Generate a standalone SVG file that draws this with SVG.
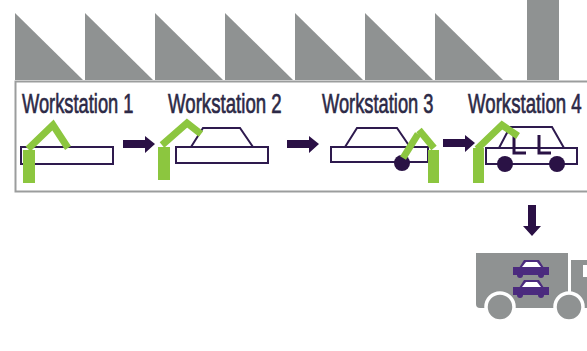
<svg xmlns="http://www.w3.org/2000/svg" width="587" height="351" viewBox="0 0 587 351">
  <style>
    .roof { fill: #8f9292; }
    .frame { fill: none; stroke: #9b9d9d; stroke-width: 2; }
    .label { font-family: "Liberation Sans", "DejaVu Sans", sans-serif; font-size: 18.3px; fill: #2c2946; stroke: #2c2946; stroke-width: 0.45; }
    .body { fill: #ffffff; stroke: #2e1a4e; stroke-width: 2; }
    .cabin { fill: none; stroke: #2e1a4e; stroke-width: 2; stroke-linejoin: miter; }
    .wheel { fill: #2a1245; }
    .arm { fill: none; stroke: #8cc63f; stroke-width: 7; stroke-linecap: butt; stroke-linejoin: miter; }
    .post { fill: #8cc63f; }
    .flow { fill: #2a1045; }
    .seat { fill: none; stroke: #2a1245; stroke-width: 3; }
    .truck { fill: #8f9292; }
    .mini { fill: #4b2a7e; }
  </style>

  <!-- factory roof: sawtooth and chimney -->
  <g id="factory">
    <polygon class="roof" points="15,13 83,80 15,80"/>
    <polygon class="roof" points="85,13 153,80 85,80"/>
    <polygon class="roof" points="155,13 223,80 155,80"/>
    <polygon class="roof" points="225,13 293,80 225,80"/>
    <polygon class="roof" points="295,13 363,80 295,80"/>
    <polygon class="roof" points="365,13 433,80 365,80"/>
    <polygon class="roof" points="435,13 503,80 435,80"/>
    <rect class="roof" x="527" y="0" width="32" height="80"/>
    <rect class="frame" x="15.5" y="81.5" width="600" height="110"/>
  </g>

  <!-- station 1: chassis -->
  <g id="ws1">
    <text class="label" transform="translate(22,113) scale(1,1.53)">Workstation 1</text>
    <rect class="body" x="21" y="147" width="92" height="17"/>
    <rect class="post" x="23" y="150" width="12" height="33"/>
    <polyline class="arm" points="28,149 53,125 68,148"/>
  </g>

  <!-- station 2: cabin -->
  <g id="ws2">
    <text class="label" transform="translate(168,113) scale(1.02,1.53)">Workstation 2</text>
    <polyline class="cabin" points="191,147 203,128 240,128 253,147"/>
    <rect class="body" x="176" y="147" width="92" height="16"/>
    <rect class="post" x="158" y="147" width="12" height="33"/>
    <polyline class="arm" points="162,145 187,123 201,134"/>
  </g>

  <!-- station 3: wheels -->
  <g id="ws3">
    <text class="label" transform="translate(322,113) scale(1,1.53)">Workstation 3</text>
    <polyline class="cabin" points="345,147 357,128 397,128 410,147"/>
    <rect class="body" x="331" y="147" width="97" height="15"/>
    <circle class="wheel" cx="402" cy="163" r="8"/>
    <line class="arm" x1="403" y1="158" x2="418" y2="134"/>
    <line class="arm" x1="419" y1="130" x2="434" y2="148"/>
    <rect class="post" x="428" y="150" width="11" height="33"/>
  </g>

  <!-- station 4: seats -->
  <g id="ws4">
    <text class="label" transform="translate(468,113) scale(1.02,1.53)">Workstation 4</text>
    <polyline class="cabin" points="499,148 510,127 552,127 564,148"/>
    <rect class="body" x="486" y="148" width="91" height="16"/>
    <circle class="wheel" cx="505" cy="164" r="8"/>
    <circle class="wheel" cx="557" cy="164" r="8"/>
    <polyline class="seat" points="514,135 514,153 526,153"/>
    <polyline class="seat" points="539,135 539,153 551,153"/>
    <rect class="post" x="473" y="148" width="11" height="35"/>
    <polyline class="arm" points="477,149 502,125 518,136"/>
  </g>

  <!-- delivery truck -->
  <g id="truck">
    <path class="truck" d="M476,253 H568 V308 H480 Q476,308 476,304 Z"/>
    <path class="truck" d="M571,260 H600 V308 H571 Z"/>
    <rect x="583" y="265" width="10" height="12" fill="#ffffff"/>
    <circle cx="500" cy="307" r="14" fill="#8f9292" stroke="#ffffff" stroke-width="3.5"/>
    <circle cx="569" cy="307" r="14" fill="#8f9292" stroke="#ffffff" stroke-width="3.5"/>
    <!-- upper car -->
    <path class="mini" d="M519,268 L524,260 H539 L544,268 Z"/>
    <path d="M522,267 L526,262 H537 L541,267 Z" fill="#ffffff"/>
    <rect class="mini" x="513" y="267" width="36" height="8"/>
    <circle class="mini" cx="520" cy="275" r="3"/>
    <circle class="mini" cx="541" cy="275" r="3"/>
    <!-- lower car -->
    <path class="mini" d="M519,288 L524,280 H539 L544,288 Z"/>
    <path d="M522,287 L526,282 H537 L541,287 Z" fill="#ffffff"/>
    <rect class="mini" x="513" y="287" width="36" height="8"/>
    <circle class="mini" cx="520" cy="295" r="3"/>
    <circle class="mini" cx="541" cy="295" r="3"/>
  </g>

  <!-- flow arrows -->
  <g id="connectors">
    <path class="flow" d="M123,140 H145 V136 L155,144 L145,153 V148 H123 Z"/>
    <path class="flow" d="M287,140 H309 V136 L319,144 L309,153 V148 H287 Z"/>
    <path class="flow" d="M443,139 H465 V135 L475,143 L465,152 V147 H443 Z"/>
    <path class="flow" d="M528,205 H536 V226 H541 L532,236 L523,226 H528 Z"/>
  </g>
</svg>
